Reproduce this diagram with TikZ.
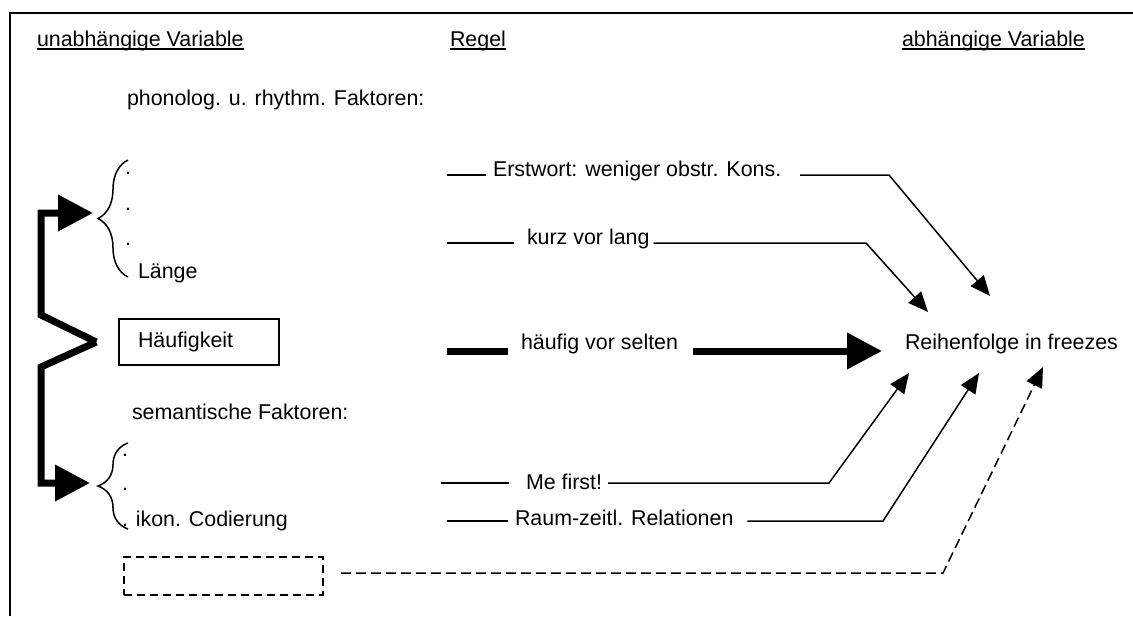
\documentclass[tikz,border=0pt]{standalone}
\usepackage{fontspec}
\setmainfont{Liberation Sans}
\usepackage{tikz}
\usetikzlibrary{positioning}
\usetikzlibrary{arrows.meta}
\usetikzlibrary{decorations.pathreplacing}

\begin{document}
\begin{tikzpicture}[%
	x=0.5pt, y=-0.5pt,
	font=\fontsize{10.7pt}{12.8pt}\selectfont,
	txt/.style={anchor=base west, inner sep=0pt, outer sep=0pt},
	frame/.style={line width=1.25pt},
	uline/.style={line width=1pt},
	rule/.style={line width=0.75pt},
	thickrule/.style={line width=3.5pt},
	arrow/.style={rule, arrows={-Triangle[length=10pt, width=8.5pt]}},
	bigarrow/.style={thickrule, arrows={-Triangle[length=17.5pt, width=17.5pt]}},
	dasharrow/.style={arrow, dash pattern=on 5pt off 2.5pt},
	bracket/.style={rule, decorate, decoration={brace, amplitude=15pt}},
	box/.style={draw=black, line width=0.75pt, align=left, minimum
		height=23pt, inner xsep=9.5pt, text width=61pt},
	dashbox/.style={draw=black, line width=0.75pt, dash pattern=on 4pt off 2.5pt,
		minimum width=99.5pt, minimum height=19pt, inner sep=0pt}%
	]
	\useasboundingbox (0,0) rectangle (1133,616);
	\draw[frame] (10,616) -- (10,13) -- (1133,13);
	%
	% Nodes
	%
	\node[txt] (UNABH) at (37,46) {unabhängige Variable};
	\node[txt] (REGEL) at (450,46) {Regel};
	\node[txt] (ABH) at (902,46) {abhängige Variable};
	\node[txt] (PHON) at (127,105) {phonolog. u. rhythm. Faktoren:};
	\node[txt] (PDOTA) at (125,174) {.};
	\node[txt] (PDOTB) at (125,210) {.};
	\node[txt] (PDOTC) at (125,245) {.};
	\node[txt] (LAENGE) at (138,278) {Länge};
	\node[box] (HAEUF) at (199,342) {Häufigkeit};
	\node[txt] (SEM) at (132,419) {semantische Faktoren:};
	\node[txt] (SDOTA) at (122,456) {.};
	\node[txt] (SDOTB) at (122,490) {.};
	\node[txt] (IKON) at (122,526) {. ikon. Codierung};
	\node[dashbox] (EMPTY) at (223.5,576) {};
	\node[txt] (ERST) at (493,176) {Erstwort: weniger obstr. Kons.};
	\node[txt] (KURZ) at (527,244) {kurz vor lang};
	\node[txt] (HAEUFIG) at (521,349) {häufig vor selten};
	\node[txt] (MEFIRST) at (526,489) {Me first!};
	\node[txt] (RAUM) at (515,525) {Raum-zeitl. Relationen};
	\node[txt] (FREEZE) at (905,349) {Reihenfolge in freezes};
	%
	% Underlines
	%
	\draw[uline] ([yshift=-1.3pt]UNABH.base west) -- ([yshift=-1.3pt]UNABH.base east);
	\draw[uline] ([yshift=-1.3pt]REGEL.base west) -- ([yshift=-1.3pt]REGEL.base east);
	\draw[uline] ([yshift=-1.3pt]ABH.base west) -- ([yshift=-1.3pt]ABH.base east);
	%
	% Braces and the thick bracket
	%
	\draw[bracket] (128,277) -- (128,160);
	\draw[bracket] (128,529) -- (128,443);
	\coordinate (SRC) at ([xshift=-11pt]HAEUF.west);
	\coordinate (UPA) at (41,315);
	\coordinate (UPB) at (41,213);
	\coordinate (PTIP) at (93,213);
	\coordinate (LOA) at (41,367);
	\coordinate (LOB) at (41,483);
	\coordinate (STIP) at (90,483);
	\draw[bigarrow] (SRC) -- (UPA) -- (UPB) -- (PTIP);
	\draw[bigarrow] (SRC) -- (LOA) -- (LOB) -- (STIP);
	%
	% Rules
	%
	\coordinate (E0) at (447,175);
	\coordinate (E1) at (889,175);
	\coordinate (EA) at (990,296);
	\coordinate (K0) at (447,243);
	\coordinate (K1) at (866,243);
	\coordinate (KA) at (928,312);
	\coordinate (H0) at (447,351);
	\coordinate (M0) at (441,483);
	\coordinate (M1) at (829,483);
	\coordinate (MA) at (909,373);
	\coordinate (R0) at (447,521);
	\coordinate (R1) at (883,521);
	\coordinate (RA) at (979,373);
	\coordinate (D1) at (943,573);
	\coordinate (DA) at (1043,367);
	\draw[rule] (E0) -- ([xshift=-3.5pt, yshift=0.5pt]ERST.base west);
	\draw[arrow] ([xshift=9.5pt, yshift=0.5pt]ERST.base east) -- (E1) -- (EA);
	\draw[rule] (K0) -- ([xshift=-6.5pt, yshift=0.5pt]KURZ.base west);
	\draw[arrow] ([xshift=2pt, yshift=0.5pt]KURZ.base east) -- (K1) -- (KA);
	\draw[thickrule] (H0) -- ([xshift=-6.5pt, yshift=-1pt]HAEUFIG.base west);
	\draw[bigarrow] ([xshift=7.5pt, yshift=-1pt]HAEUFIG.base east)
		-- ([xshift=-11.5pt, yshift=-1pt]FREEZE.base west);
	\draw[rule] (M0) -- ([xshift=-8.5pt, yshift=3pt]MEFIRST.base west);
	\draw[arrow] ([xshift=3pt, yshift=3pt]MEFIRST.base east) -- (M1) -- (MA);
	\draw[rule] (R0) -- ([xshift=-3.5pt, yshift=2pt]RAUM.base west);
	\draw[arrow] ([xshift=7pt, yshift=2pt]RAUM.base east) -- (R1) -- (RA);
	\draw[dasharrow] ([xshift=8.5pt, yshift=1.5pt]EMPTY.east) -- (D1) -- (DA);
\end{tikzpicture}
\end{document}
